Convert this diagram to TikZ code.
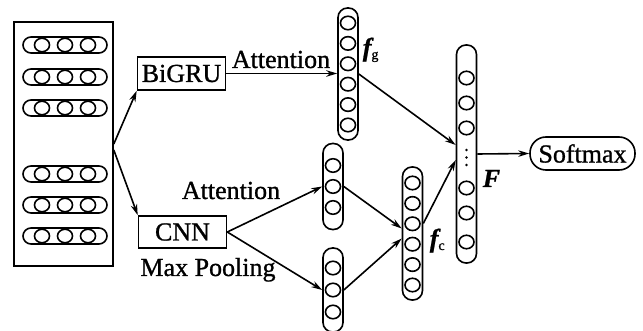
\documentclass[tikz,border=0pt]{standalone}
\usepackage{fontspec}
\setmainfont{Liberation Serif}[FakeBold=1.0]
\usetikzlibrary{arrows.meta,shapes.geometric}
\begin{document}
\begin{tikzpicture}[x=1pt,y=-1pt,
  line width=1.6pt,
  every node/.style={font=\fontsize{26}{30}\selectfont},
  unit/.style={draw,ellipse,minimum width=15pt,minimum height=13.5pt,inner sep=0pt},
  pill/.style={draw,rectangle,rounded corners=8pt,minimum width=84pt,minimum height=16pt,inner sep=0pt},
  col/.style={draw,rectangle,rounded corners=9.5pt,minimum width=20pt,inner sep=0pt},
  box/.style={draw,rectangle,minimum width=88pt,minimum height=33pt,inner sep=0pt},
  arr/.style={-{Stealth[length=11pt,width=6.5pt]}},
  lbl/.style={inner sep=0pt},
  dot/.style={circle,fill,inner sep=0pt,minimum size=2.8pt}
]
\useasboundingbox (0,0) rectangle (643,331);

% input box with rows
\node[draw,minimum width=99pt,minimum height=244pt,inner sep=0pt] (inbox) at (63.5,144) {};
\foreach \y [count=\i] in {45,77,108,174,205,236} {
  \node[pill] (row\i) at (65,\y) {};
  \foreach \x [count=\j] in {42,65,88}
    \node[unit] (r\i-\j) at (\x,\y) {};
}

% BiGRU and CNN
\node[box] (bigru) at (181.5,73.5) {BiGRU};
\node[box,minimum height=32pt] (cnn) at (182.5,232) {CNN};
\draw[arr] (inbox.east) -- (bigru.south west);
\draw[arr] ([yshift=-6pt]inbox.east) -- (cnn.north west);

% f_g column
\node[col,minimum height=132pt] (fg) at (348,74) {};
\foreach \y [count=\i] in {23,43.4,63.8,84.2,104.6,125}
  \node[unit] (fg\i) at (348,\y) {};
\node[lbl,anchor=base west] (fglbl) at (362,56) {{\bfseries\itshape f}{\fontsize{14}{14}\selectfont\raisebox{-3pt}{g}}};
\node[lbl,anchor=base] (att1) at (281,68) {Attention};
\draw[arr] (bigru.east) -- (fg.west |- bigru.east);

% CNN branch columns
\node[col,minimum height=86pt] (a1) at (333,186.5) {};
\foreach \y [count=\i] in {165.5,186.5,207.5}
  \node[unit] (a1u\i) at (333,\y) {};
\node[col,minimum height=84pt] (a2) at (333,290) {};
\foreach \y [count=\i] in {268,290,312}
  \node[unit] (a2u\i) at (333,\y) {};
\node[lbl,anchor=base] (att2) at (231,199) {Attention};
\node[lbl,anchor=base] (maxp) at (208,276) {Max Pooling};
\draw[arr] (cnn.east) -- (a1.west);
\draw[arr] (cnn.east) -- (a2.west);

% f_c column
\node[col,minimum height=133pt] (fc) at (412.5,233.5) {};
\foreach \y [count=\i] in {183,203.4,223.8,244.2,264.6,285}
  \node[unit] (fc\i) at (412.5,\y) {};
\node[lbl,anchor=base west] (fclbl) at (429,247) {{\bfseries\itshape f}{\fontsize{14}{14}\selectfont\raisebox{-3pt}{c}}};
\draw[arr] (a1.east) -- ([yshift=5pt]fc.west);
\draw[arr] (a2.east) -- ([yshift=-5pt]fc.west);

% F column
\node[col,minimum height=218pt] (Fcol) at (466.5,154) {};
\foreach \y [count=\i] in {78,103,128,188,213,242}
  \node[unit] (F\i) at (466.5,\y) {};
\foreach \y [count=\i] in {150,157.5,165}
  \node[dot] (d\i) at (466.5,\y) {};
\node[lbl,anchor=base west] (Flbl) at (482,187) {\bfseries\itshape F};
\draw[arr] (fg.east) -- ([yshift=9pt]Fcol.west);
\draw[arr] ([yshift=10pt]fc.east) -- ([yshift=-6pt]Fcol.west);

% Softmax
\node[draw,rectangle,rounded corners=16pt,minimum width=105pt,minimum height=33pt,inner sep=0pt] (soft) at (582.5,153.5) {Softmax};
\draw[arr] (Fcol.east) -- (soft.west);
\end{tikzpicture}
\end{document}
